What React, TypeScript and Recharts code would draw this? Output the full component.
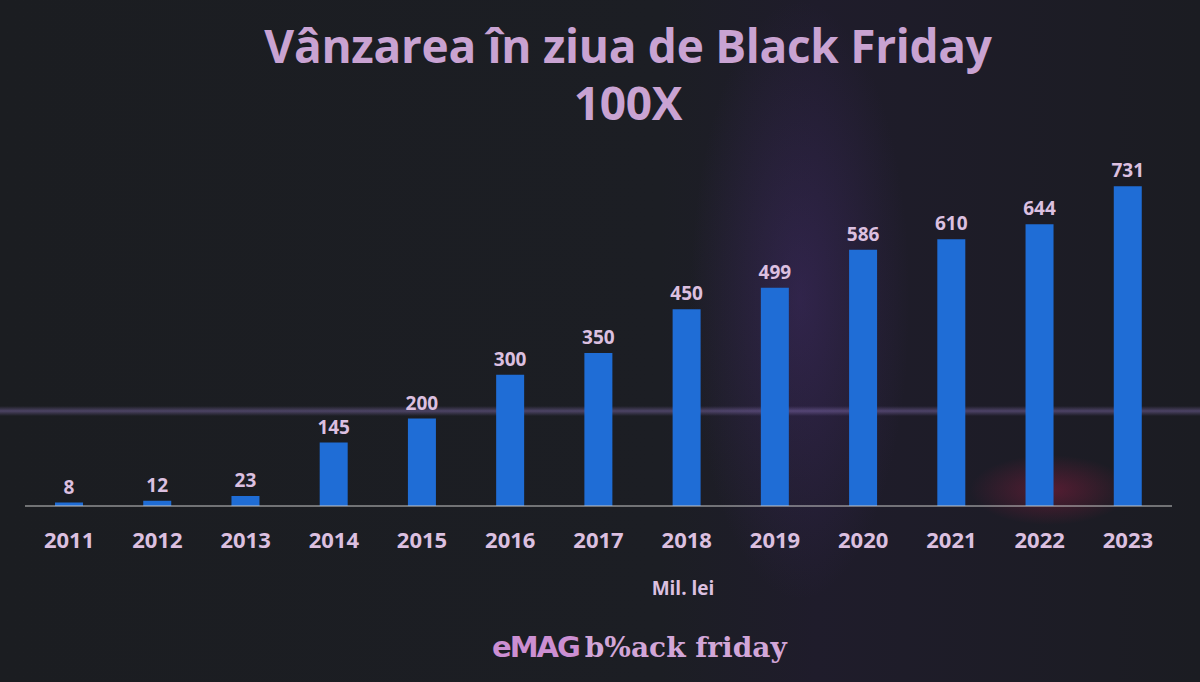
import React from 'react';
import { BarChart, Bar, XAxis, YAxis, LabelList } from 'recharts';

const years = ['2011', '2012', '2013', '2014', '2015', '2016', '2017', '2018', '2019', '2020', '2021', '2022', '2023'];
const sales = [8, 12, 23, 145, 200, 300, 350, 450, 499, 586, 610, 644, 731];

const chartData = years.map((year, i) => ({ year, sales: sales[i] }));

const TEXT = '#dcc0e0';
const FONT = '"Open Sans", "Noto Sans", sans-serif';

const titleStyle: React.CSSProperties = {
  position: 'absolute', left: 0, width: 1256, textAlign: 'center',
  color: '#c9a3d2', fontWeight: 700, fontSize: 46, lineHeight: '50px', letterSpacing: -0.3,
};

export default function App() {
  return (
    <div
      style={{
        position: 'fixed', left: 0, top: 0, width: 1200, height: 682, overflow: 'hidden',
        fontFamily: FONT,
        background:
          'linear-gradient(180deg, rgba(0,0,0,0) 406px, rgba(150,125,200,0.4) 411px, rgba(0,0,0,0) 416px),' +
          'radial-gradient(ellipse 80px 35px at 1050px 490px, rgba(170,30,70,0.4), rgba(0,0,0,0)),' +
          'radial-gradient(ellipse 110px 300px at 800px 300px, rgba(90,55,150,0.3), rgba(0,0,0,0)),' +
          'linear-gradient(90deg, #1b1d21 0%, #1c1e24 55%, #1f1c2b 68%, #1b1c22 100%)',
      }}
    >
      <div style={{ ...titleStyle, top: 20 }}>Vânzarea în ziua de Black Friday</div>
      <div style={{ ...titleStyle, top: 77 }}>100X</div>

      <BarChart
        width={1200}
        height={682}
        data={chartData}
        margin={{ top: 178, right: 28, bottom: 146, left: 25 }}
        barCategoryGap="34%"
      >
        <XAxis
          dataKey="year"
          stroke="#c8c8c8"
          tickLine={false}
          tickMargin={20}
          tick={{ fill: TEXT, fontSize: 22, fontWeight: 700, fontFamily: FONT }}
        />
        <YAxis hide domain={[0, 750]} />
        <Bar dataKey="sales" fill="#1f6dd6" isAnimationActive={false}>
          <LabelList dataKey="sales" position="top" offset={9} fill={TEXT} fontSize={19} fontWeight={700} fontFamily={FONT} />
        </Bar>
      </BarChart>

      <div style={{ position: 'absolute', top: 575, left: 0, width: 1366, textAlign: 'center', color: TEXT, fontWeight: 700, fontSize: 19 }}>
        Mil. lei
      </div>

      <div style={{ position: 'absolute', top: 630, left: 492, whiteSpace: 'nowrap', color: '#d2a6d8' }}>
        <span style={{ fontFamily: '"DejaVu Sans", sans-serif', fontWeight: 900, fontSize: 29, letterSpacing: -2, color: '#cc8fd2' }}>eMAG</span>
        <span style={{ fontFamily: '"DejaVu Serif", serif', fontWeight: 700, fontSize: 28, marginLeft: 6 }}>b%ack friday</span>
      </div>
    </div>
  );
}
